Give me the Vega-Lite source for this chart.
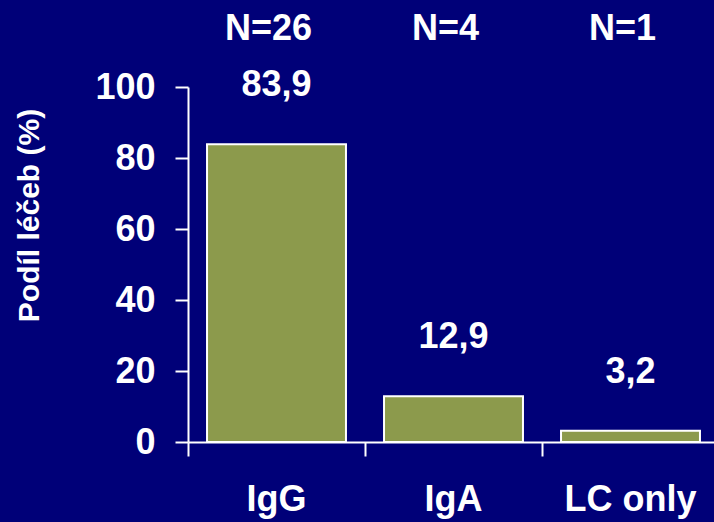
{
  "$schema": "https://vega.github.io/schema/vega-lite/v6.json",
  "width": 526,
  "height": 355,
  "autosize": {"type": "none"},
  "padding": {"left": 188, "top": 87, "right": 0, "bottom": 80},
  "background": "#000078",
  "config": {"view": {"stroke": null}, "font": "Liberation Sans"},
  "data": {
    "values": [
      {"cat": "IgG", "pct": 83.9, "label": "83,9", "n": "N=26"},
      {"cat": "IgA", "pct": 12.9, "label": "12,9", "n": "N=4"},
      {"cat": "LC only", "pct": 3.2, "label": "3,2", "n": "N=1"}
    ]
  },
  "resolve": {"axis": {"x": "independent"}},
  "layer": [
    {
      "mark": {"type": "bar", "color": "#8C9A4C", "stroke": "white", "strokeWidth": 2, "width": {"band": 0.785}},
      "encoding": {
        "x": {
          "field": "cat", "type": "nominal", "sort": null,
          "scale": {"range": [0, 531], "paddingInner": 0, "paddingOuter": 0},
          "axis": {"orient": "bottom", "title": null, "domain": false, "ticks": false, "labelAngle": 0,
            "labelColor": "white", "labelFont": "Liberation Sans", "labelFontWeight": "bold", "labelFontSize": 36,
            "labelPadding": 40, "labelBaseline": "top"}
        },
        "y": {
          "field": "pct", "type": "quantitative",
          "scale": {"domain": [0, 100], "nice": false},
          "axis": {"values": [0, 20, 40, 60, 80, 100], "grid": false, "domainColor": "white", "domainWidth": 2,
            "tickColor": "white", "tickWidth": 2, "tickSize": 13, "labelColor": "white", "labelFont": "Liberation Sans",
            "labelFontWeight": "bold", "labelFontSize": 36, "labelPadding": 20,
            "title": "Podíl léčeb (%)", "titleColor": "white", "titleFont": "Liberation Sans", "titleFontWeight": "bold",
            "titleFontSize": 30, "titleX": -159, "titleY": 128, "titleAngle": -90, "titleAlign": "center", "titleBaseline": "middle"}
        }
      }
    },
    {
      "mark": {"type": "text", "dy": -48, "baseline": "alphabetic", "color": "white", "font": "Liberation Sans", "fontWeight": "bold", "fontSize": 36},
      "encoding": {
        "x": {
          "field": "cat", "type": "nominal", "sort": null,
          "axis": {"orient": "bottom", "title": null, "labels": false, "bandPosition": 0, "ticks": true, "tickSize": 14,
            "tickWidth": 2, "tickColor": "white", "domain": true, "domainColor": "white", "domainWidth": 2}
        },
        "y": {"field": "pct", "type": "quantitative"},
        "text": {"field": "label"}
      }
    },
    {
      "mark": {"type": "text", "baseline": "alphabetic", "dx": -8, "color": "white", "font": "Liberation Sans", "fontWeight": "bold", "fontSize": 36},
      "encoding": {
        "x": {"field": "cat", "type": "nominal", "sort": null, "axis": null},
        "y": {"datum": 113.2},
        "text": {"field": "n"}
      }
    }
  ]
}
